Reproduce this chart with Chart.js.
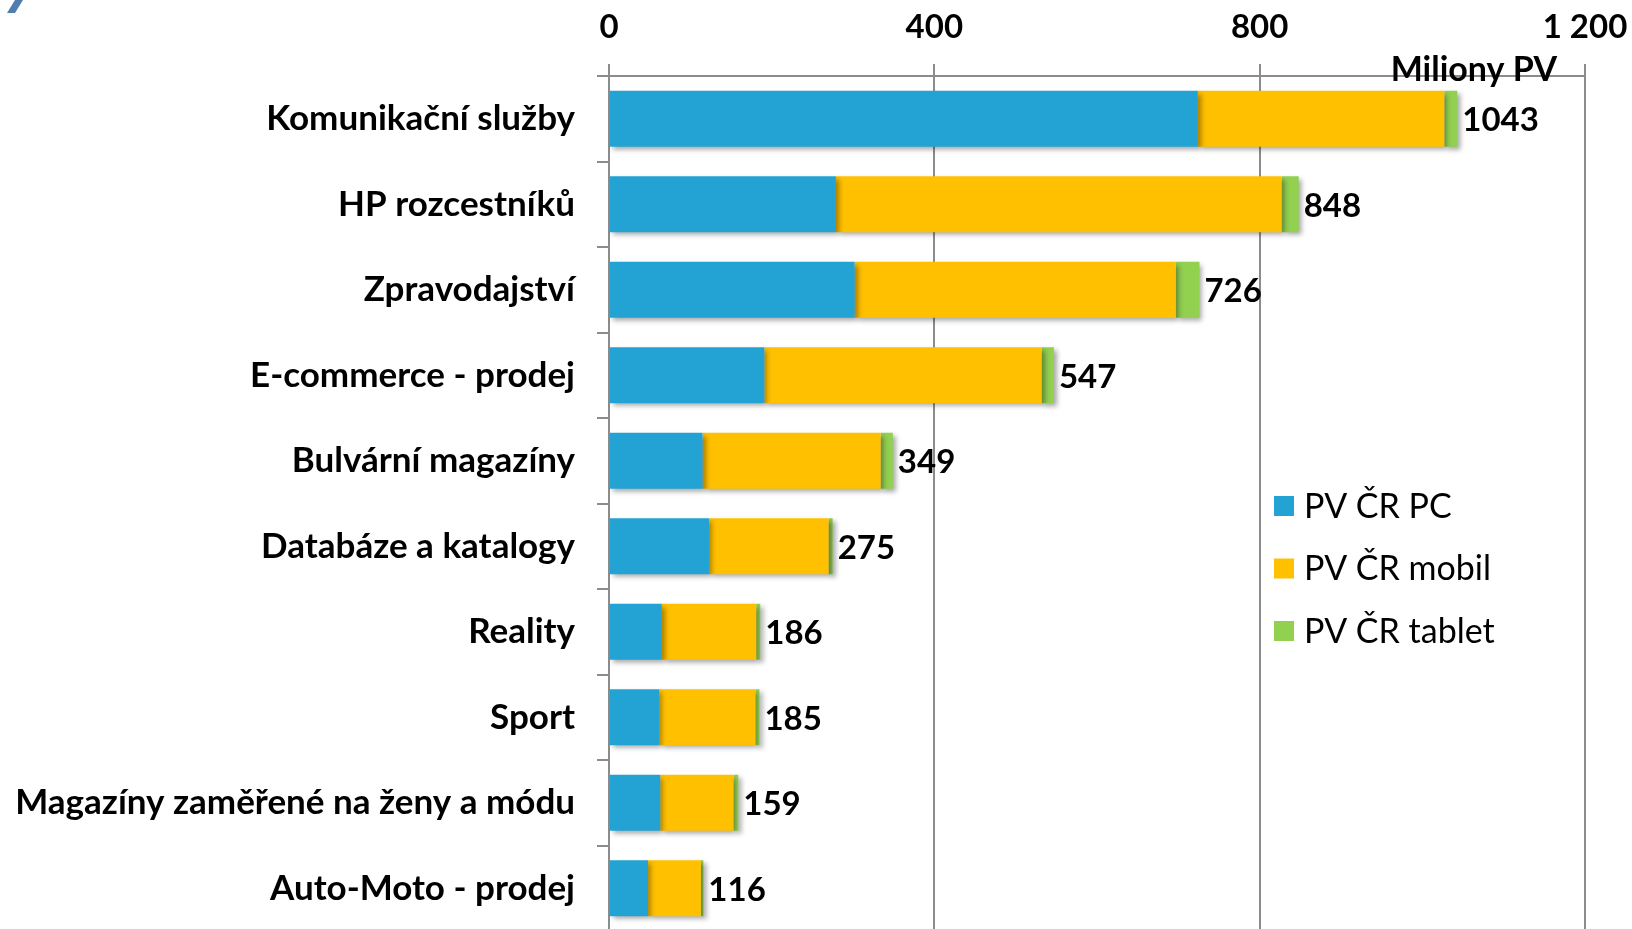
<!DOCTYPE html>
<html>
<head>
<meta charset="utf-8">
<script src="https://cdn.jsdelivr.net/npm/chart.js@4.4.1/dist/chart.umd.min.js"></script>
<style>
    html, body { margin: 0; padding: 0; background: #fff; overflow: hidden; }
    #wrap { position: relative; width: 1632px; height: 936px; }
</style>
</head>
<body>
<div id="wrap"><canvas id="barChart" width="1632" height="936"></canvas></div>
<script>
// Data (millions of page views)
const categories = [
    'Komunikační služby',
    'HP rozcestníků',
    'Zpravodajství',
    'E-commerce - prodej',
    'Bulvární magazíny',
    'Databáze a katalogy',
    'Reality',
    'Sport',
    'Magazíny zaměřené na ženy a módu',
    'Auto-Moto - prodej'
];
const pcValues     = [724, 279, 302, 191, 115, 123, 65, 62, 63, 48];
const mobileValues = [303, 548, 395, 341, 219, 147, 116, 118, 90, 65];
const tabletValues = [16, 21, 29, 15, 15, 5, 5, 5, 6, 3];
const totals       = [1043, 848, 726, 547, 349, 275, 186, 185, 159, 116];
const seriesNames  = ['PV ČR PC', 'PV ČR mobil', 'PV ČR tablet'];
const xTicks       = [0, 400, 800, 1200];
const axisTitle    = 'Miliony PV';

const colors = ['#22A3D3', '#FFC000', '#92D050'];
const gridColor = '#8C8C8C';
const fontFamily = 'Lato, "Open Sans", sans-serif';

// drop shadow under the bar segments
const shadowPlugin = {
    id: 'barShadow',
    beforeDatasetsDraw(chart) {
        const ctx = chart.ctx;
        ctx.save();
        ctx.shadowColor = 'rgba(0, 0, 0, 0.35)';
        ctx.shadowBlur = 5;
        ctx.shadowOffsetX = 3;
        ctx.shadowOffsetY = 3;
    },
    afterDatasetsDraw(chart) {
        chart.ctx.restore();
    }
};

// totals at the end of each bar, axis title, legend
const extrasPlugin = {
    id: 'extras',
    afterDatasetsDraw(chart) {
        const ctx = chart.ctx;
        const x = chart.scales.x;
        const y = chart.scales.y;
        ctx.save();
        ctx.fillStyle = '#000';
        ctx.font = 'bold 33px ' + fontFamily;
        ctx.textAlign = 'left';
        ctx.textBaseline = 'middle';
        totals.forEach((t, i) => {
            ctx.fillText(String(t), x.getPixelForValue(t) + 5, y.getPixelForValue(i) + 2);
        });

        // axis title sits over the top axis line
        ctx.font = 'bold 34px ' + fontFamily;
        ctx.textAlign = 'right';
        ctx.textBaseline = 'alphabetic';
        ctx.fillText(axisTitle, chart.chartArea.right - 28, chart.chartArea.top + 5);

        // legend
        ctx.font = '34px ' + fontFamily;
        ctx.textAlign = 'left';
        ctx.textBaseline = 'middle';
        chart.data.datasets.forEach((ds, i) => {
            const cy = 506 + i * 62.5;
            ctx.fillStyle = ds.backgroundColor;
            ctx.fillRect(1274, cy - 10, 20, 20);
            ctx.fillStyle = '#000';
            ctx.fillText(ds.label, 1304, cy + 1);
        });

        // leftover stroke of the cut-off heading
        ctx.fillStyle = '#4F7DB0';
        ctx.beginPath();
        ctx.moveTo(15, 0);
        ctx.lineTo(23, 0);
        ctx.lineTo(15, 13);
        ctx.lineTo(7, 13);
        ctx.closePath();
        ctx.fill();
        ctx.restore();
    }
};

const config = {
    type: 'bar',
    data: {
        labels: categories,
        datasets: [
            { label: seriesNames[0], data: pcValues, backgroundColor: colors[0] },
            { label: seriesNames[1], data: mobileValues, backgroundColor: colors[1] },
            { label: seriesNames[2], data: tabletValues, backgroundColor: colors[2] }
        ]
    },
    options: {
        indexAxis: 'y',
        responsive: false,
        animation: false,
        layout: { padding: { left: 0, right: 47, top: 0, bottom: 5 } },
        datasets: {
            bar: { categoryPercentage: 1, barPercentage: 0.655, borderWidth: 0 }
        },
        scales: {
            x: {
                position: 'top',
                stacked: true,
                min: 0,
                max: 1200,
                afterBuildTicks: (scale) => {
                    scale.ticks = xTicks.map(v => ({ value: v }));
                },
                afterFit: (scale) => {
                    scale.height = 76;
                    scale.paddingLeft = 0;
                    scale.paddingRight = 0;
                },
                ticks: {
                    color: '#000',
                    padding: 17,
                    font: { family: fontFamily, size: 33, weight: 'bold' },
                    callback: (v) => String(v).replace(/\B(?=(\d{3})+(?!\d))/g, ' ')
                },
                grid: { color: gridColor, lineWidth: 2, tickLength: 12 },
                border: { color: gridColor, width: 2 }
            },
            y: {
                stacked: true,
                afterFit: (scale) => {
                    scale.width = 609;
                    scale.paddingTop = 0;
                    scale.paddingBottom = 0;
                },
                ticks: {
                    color: '#000',
                    padding: 22,
                    font: { family: fontFamily, size: 35, weight: 'bold' }
                },
                grid: { drawOnChartArea: false, color: gridColor, lineWidth: 2, tickLength: 12 },
                border: { color: gridColor, width: 2 }
            }
        },
        plugins: {
            legend: { display: false },
            tooltip: { enabled: false }
        }
    },
    plugins: [shadowPlugin, extrasPlugin]
};

const chart = new Chart(document.getElementById('barChart').getContext('2d'), config);
</script>
</body>
</html>
